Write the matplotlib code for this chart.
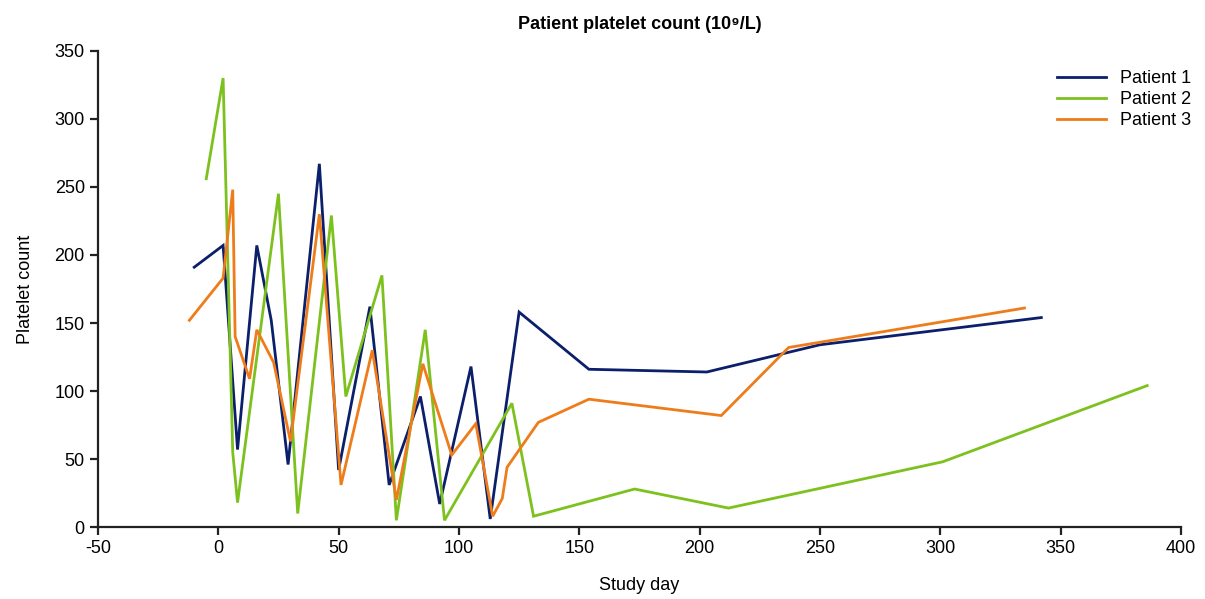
import matplotlib
matplotlib.use("Agg")
import matplotlib.pyplot as plt

plt.rcParams['font.family'] = ['Liberation Sans', 'DejaVu Sans']
plt.rcParams['axes.unicode_minus'] = False

p1_day = [-10, 2, 8, 16, 22, 29, 42, 50, 63, 71, 84, 92, 105, 113, 125, 154, 203, 250, 342]
p1_val = [191, 207, 57, 207, 152, 46, 267, 42, 162, 31, 96, 17, 118, 6, 158, 116, 114, 134, 154]

p2_day = [-5, 2, 6, 8, 25, 33, 47, 53, 68, 74, 86, 94, 122, 131, 173, 212, 301, 386]
p2_val = [256, 330, 55, 18, 245, 10, 229, 96, 185, 5, 145, 5, 91, 8, 28, 14, 48, 104]

p3_day = [-12, 2, 6, 7, 13, 16, 23, 30, 42, 51, 64, 74, 85, 97, 107, 114, 118, 120, 133, 154, 209, 237, 335]
p3_val = [152, 183, 248, 140, 109, 145, 121, 63, 230, 31, 130, 20, 120, 53, 76, 8, 21, 44, 77, 94, 82, 132, 161]

labels = ["Patient 1", "Patient 2", "Patient 3"]
colors = ["#0b1f6b", "#7dc11f", "#ef7c1a"]
x_ticks = [-50, 0, 50, 100, 150, 200, 250, 300, 350, 400]
y_ticks = [0, 50, 100, 150, 200, 250, 300, 350]

fig = plt.figure(figsize=(12.05, 5.99), dpi=100)
ax = fig.add_axes([0.0813, 0.120, 0.8987, 0.7951])

for d, v, lab, c in zip([p1_day, p2_day, p3_day], [p1_val, p2_val, p3_val], labels, colors):
    ax.plot(d, v, color=c, lw=2.0, label=lab, solid_joinstyle='miter')

ax.set_xlim(-50, 400)
ax.set_ylim(0, 350)
ax.set_xticks(x_ticks)
ax.set_yticks(y_ticks)
ax.spines['top'].set_visible(False)
ax.spines['right'].set_visible(False)
for s in ['left', 'bottom']:
    ax.spines[s].set_linewidth(1.6)
    ax.spines[s].set_color('#222222')
ax.tick_params(axis='both', direction='out', length=6, width=1.6, labelsize=13, colors='#222222', labelcolor='black')

ax.set_xlabel("Study day", fontsize=13, labelpad=14)
ax.set_ylabel("Platelet count", fontsize=13, labelpad=15)
ax.set_title("Patient platelet count (10⁹/L)", fontsize=13, fontweight='bold', pad=16)

leg = ax.legend(loc='upper left', bbox_to_anchor=(1057 / 1205, 1 - 70 / 599), bbox_transform=fig.transFigure,
                frameon=False, fontsize=13, borderpad=0, borderaxespad=0,
                handlelength=2.7, handletextpad=0.8, labelspacing=0.22)

fig.savefig("out.png", dpi=100)
